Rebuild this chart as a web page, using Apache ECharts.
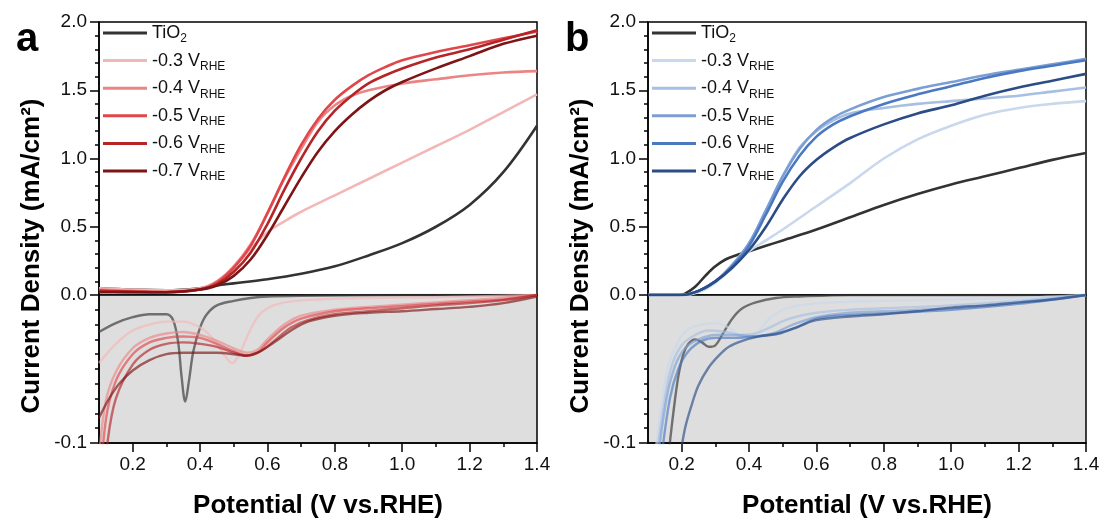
<!DOCTYPE html>
<html>
<head>
<meta charset="utf-8">
<script src="https://cdn.jsdelivr.net/npm/echarts@6/dist/echarts.min.js"></script>
<style>
html, body { margin: 0; padding: 0; background: #fff; }
#chart { width: 1104px; height: 522px; }
</style>
</head>
<body>
<div id="chart"></div>
<script>
// photocurrent curves, two panels with a broken y axis (0..2 above, 0..-0.1 below)
const FONT = '"Liberation Sans", Arial, sans-serif'

const seriesKeys = ['TiO2', '-0.3', '-0.4', '-0.5', '-0.6', '-0.7']
const redColors = ['#333333', '#f2b8b8', '#eb8585', '#e0474a', '#b52426', '#7d1416']
const blueColors = ['#333333', '#c9d8ec', '#a6bfe2', '#7c9fd3', '#4a79c2', '#2b4c85']
const xLabelValues = [0.2, 0.4, 0.6, 0.8, 1.0, 1.2, 1.4]
const xMinorValues = [0.3, 0.5, 0.7, 0.9, 1.1, 1.3]

// panel a, upper part
const aUpTiO2 = [[0.1,0.05],[0.2,0.04],[0.3,0.035],[0.4,0.05],[0.45,0.07],[0.5,0.085],[0.6,0.115],[0.7,0.155],[0.8,0.21],[0.9,0.29],[1.0,0.38],[1.1,0.5],[1.2,0.66],[1.3,0.9],[1.4,1.24]]
const aUp03 = [[0.1,0.05],[0.2,0.04],[0.3,0.035],[0.4,0.05],[0.45,0.1],[0.5,0.2],[0.55,0.34],[0.6,0.46],[0.65,0.54],[0.7,0.61],[0.8,0.73],[0.9,0.85],[1.0,0.97],[1.1,1.09],[1.2,1.21],[1.3,1.34],[1.4,1.47]]
const aUp04 = [[0.1,0.04],[0.2,0.03],[0.3,0.025],[0.4,0.045],[0.45,0.1],[0.5,0.21],[0.55,0.37],[0.6,0.6],[0.65,0.85],[0.7,1.07],[0.75,1.27],[0.8,1.39],[0.85,1.46],[0.9,1.5],[1.0,1.55],[1.1,1.58],[1.2,1.61],[1.3,1.63],[1.4,1.64]]
const aUp05 = [[0.1,0.03],[0.2,0.02],[0.3,0.02],[0.4,0.04],[0.45,0.09],[0.5,0.2],[0.55,0.36],[0.6,0.6],[0.65,0.86],[0.7,1.1],[0.75,1.29],[0.8,1.43],[0.85,1.53],[0.9,1.61],[0.95,1.67],[1.0,1.72],[1.1,1.78],[1.2,1.83],[1.3,1.88],[1.4,1.93]]
const aUp06 = [[0.1,0.03],[0.2,0.025],[0.3,0.02],[0.4,0.04],[0.45,0.08],[0.5,0.17],[0.55,0.31],[0.6,0.52],[0.65,0.77],[0.7,1.0],[0.75,1.2],[0.8,1.35],[0.85,1.46],[0.9,1.55],[0.95,1.61],[1.0,1.66],[1.1,1.74],[1.2,1.8],[1.3,1.87],[1.4,1.94]]
const aUp07 = [[0.1,0.02],[0.2,0.02],[0.3,0.02],[0.4,0.04],[0.45,0.07],[0.5,0.14],[0.55,0.26],[0.6,0.44],[0.65,0.65],[0.7,0.86],[0.75,1.05],[0.8,1.2],[0.85,1.32],[0.9,1.42],[0.95,1.5],[1.0,1.56],[1.1,1.66],[1.2,1.75],[1.3,1.84],[1.4,1.9]]

// panel a, lower part
const aLoTiO2 = [[0.1,-0.025],[0.15,-0.019],[0.2,-0.015],[0.25,-0.013],[0.3,-0.013],[0.32,-0.017],[0.335,-0.032],[0.345,-0.055],[0.356,-0.072],[0.367,-0.058],[0.38,-0.038],[0.4,-0.022],[0.42,-0.013],[0.45,-0.007],[0.5,-0.004],[0.55,-0.002],[0.6,-0.001],[0.7,-0.0005],[1.0,0],[1.4,0]]
const aLo03 = [[0.1,-0.046],[0.15,-0.033],[0.2,-0.024],[0.25,-0.02],[0.3,-0.018],[0.35,-0.018],[0.4,-0.022],[0.44,-0.03],[0.47,-0.04],[0.495,-0.046],[0.515,-0.041],[0.54,-0.028],[0.57,-0.015],[0.6,-0.009],[0.65,-0.005],[0.75,-0.003],[0.9,-0.002],[1.1,-0.0015],[1.4,0]]
const aLo04 = [[0.1,-0.11],[0.12,-0.072],[0.15,-0.052],[0.2,-0.036],[0.25,-0.029],[0.3,-0.026],[0.35,-0.025],[0.4,-0.027],[0.45,-0.031],[0.5,-0.036],[0.54,-0.039],[0.57,-0.037],[0.6,-0.03],[0.65,-0.02],[0.7,-0.014],[0.8,-0.01],[0.9,-0.008],[1.0,-0.0065],[1.1,-0.005],[1.2,-0.0035],[1.3,-0.002],[1.38,0]]
const aLo05 = [[0.1,-0.14],[0.12,-0.085],[0.15,-0.058],[0.2,-0.04],[0.25,-0.032],[0.3,-0.029],[0.35,-0.028],[0.4,-0.029],[0.45,-0.033],[0.5,-0.038],[0.54,-0.041],[0.57,-0.039],[0.6,-0.032],[0.65,-0.022],[0.7,-0.016],[0.8,-0.011],[0.9,-0.009],[1.0,-0.0075],[1.1,-0.006],[1.2,-0.0045],[1.3,-0.003],[1.4,0]]
const aLo06 = [[0.1,-0.16],[0.125,-0.1],[0.15,-0.07],[0.2,-0.047],[0.25,-0.037],[0.3,-0.033],[0.35,-0.032],[0.4,-0.033],[0.45,-0.035],[0.5,-0.039],[0.54,-0.041],[0.58,-0.038],[0.62,-0.031],[0.67,-0.022],[0.72,-0.017],[0.8,-0.013],[0.9,-0.011],[1.0,-0.009],[1.1,-0.007],[1.2,-0.0055],[1.3,-0.0035],[1.4,0]]
const aLo07 = [[0.1,-0.083],[0.13,-0.07],[0.16,-0.06],[0.2,-0.051],[0.25,-0.044],[0.3,-0.04],[0.35,-0.039],[0.4,-0.039],[0.45,-0.039],[0.5,-0.04],[0.53,-0.041],[0.57,-0.039],[0.62,-0.032],[0.67,-0.024],[0.72,-0.018],[0.8,-0.014],[0.9,-0.012],[1.0,-0.011],[1.1,-0.0095],[1.2,-0.008],[1.3,-0.0055],[1.4,-0.001]]

// panel b, upper part
const bUpTiO2 = [[0.1,0],[0.15,0],[0.19,0],[0.21,0.01],[0.24,0.06],[0.27,0.14],[0.3,0.21],[0.33,0.26],[0.36,0.29],[0.4,0.32],[0.45,0.36],[0.5,0.4],[0.6,0.48],[0.7,0.57],[0.8,0.66],[0.9,0.74],[1.0,0.81],[1.1,0.87],[1.2,0.93],[1.3,0.99],[1.4,1.04]]
const bUp03 = [[0.1,0],[0.2,0],[0.25,0.02],[0.3,0.09],[0.35,0.2],[0.4,0.32],[0.45,0.4],[0.5,0.48],[0.6,0.65],[0.7,0.82],[0.8,1.0],[0.9,1.14],[1.0,1.24],[1.1,1.32],[1.2,1.37],[1.3,1.4],[1.4,1.42]]
const bUp04 = [[0.1,0],[0.2,0],[0.25,0.03],[0.3,0.1],[0.35,0.22],[0.4,0.38],[0.45,0.62],[0.5,0.87],[0.55,1.08],[0.6,1.2],[0.65,1.28],[0.7,1.33],[0.8,1.37],[0.9,1.4],[1.0,1.42],[1.1,1.44],[1.2,1.46],[1.3,1.49],[1.4,1.52]]
const bUp05 = [[0.1,0],[0.2,0],[0.25,0.03],[0.3,0.1],[0.35,0.22],[0.4,0.38],[0.45,0.62],[0.5,0.87],[0.55,1.07],[0.6,1.21],[0.65,1.3],[0.7,1.36],[0.8,1.45],[0.9,1.51],[1.0,1.56],[1.1,1.61],[1.2,1.65],[1.3,1.69],[1.4,1.73]]
const bUp06 = [[0.1,0],[0.2,0],[0.25,0.03],[0.3,0.1],[0.35,0.21],[0.4,0.36],[0.45,0.59],[0.5,0.83],[0.55,1.02],[0.6,1.16],[0.65,1.25],[0.7,1.31],[0.8,1.4],[0.9,1.47],[1.0,1.53],[1.1,1.59],[1.2,1.64],[1.3,1.68],[1.4,1.72]]
const bUp07 = [[0.1,0],[0.2,0],[0.25,0.03],[0.3,0.1],[0.35,0.2],[0.4,0.33],[0.45,0.5],[0.5,0.7],[0.55,0.87],[0.6,0.99],[0.65,1.08],[0.7,1.15],[0.8,1.25],[0.9,1.33],[1.0,1.39],[1.1,1.46],[1.2,1.52],[1.3,1.57],[1.4,1.62]]

// panel b, lower part
const bLoTiO2 = [[0.16,-0.11],[0.175,-0.08],[0.19,-0.055],[0.205,-0.04],[0.22,-0.033],[0.24,-0.03],[0.26,-0.032],[0.28,-0.035],[0.3,-0.034],[0.32,-0.027],[0.35,-0.016],[0.38,-0.009],[0.42,-0.005],[0.48,-0.002],[0.55,-0.001],[0.7,0],[1.4,0]]
const bLo03 = [[0.12,-0.11],[0.14,-0.075],[0.16,-0.048],[0.19,-0.031],[0.22,-0.023],[0.26,-0.02],[0.3,-0.019],[0.34,-0.022],[0.37,-0.027],[0.4,-0.029],[0.43,-0.024],[0.46,-0.016],[0.5,-0.01],[0.55,-0.007],[0.65,-0.005],[0.8,-0.004],[1.0,-0.003],[1.2,-0.002],[1.4,0]]
const bLo04 = [[0.125,-0.11],[0.15,-0.07],[0.17,-0.048],[0.2,-0.034],[0.24,-0.027],[0.28,-0.024],[0.33,-0.025],[0.38,-0.027],[0.42,-0.026],[0.46,-0.022],[0.52,-0.016],[0.6,-0.012],[0.7,-0.01],[0.8,-0.009],[1.0,-0.007],[1.2,-0.004],[1.4,0]]
const bLo05 = [[0.13,-0.11],[0.155,-0.07],[0.18,-0.048],[0.21,-0.036],[0.25,-0.03],[0.3,-0.027],[0.36,-0.027],[0.42,-0.028],[0.47,-0.026],[0.53,-0.02],[0.6,-0.015],[0.7,-0.012],[0.8,-0.011],[1.0,-0.009],[1.2,-0.005],[1.4,0]]
const bLo06 = [[0.14,-0.11],[0.165,-0.07],[0.19,-0.05],[0.22,-0.038],[0.26,-0.031],[0.3,-0.029],[0.36,-0.029],[0.42,-0.028],[0.48,-0.026],[0.54,-0.022],[0.6,-0.016],[0.7,-0.0135],[0.8,-0.0125],[1.0,-0.01],[1.2,-0.006],[1.4,0]]
const bLo07 = [[0.195,-0.11],[0.21,-0.09],[0.23,-0.074],[0.25,-0.061],[0.28,-0.049],[0.31,-0.041],[0.34,-0.035],[0.38,-0.031],[0.43,-0.028],[0.49,-0.026],[0.55,-0.021],[0.6,-0.017],[0.7,-0.0145],[0.8,-0.013],[0.9,-0.011],[1.0,-0.0085],[1.1,-0.007],[1.2,-0.005],[1.3,-0.003],[1.4,0]]

const panels = [
  { key: 'a', left: 99, colors: redColors,
    upper: [aUpTiO2, aUp03, aUp04, aUp05, aUp06, aUp07],
    lower: [aLoTiO2, aLo03, aLo04, aLo05, aLo06, aLo07] },
  { key: 'b', left: 648, colors: blueColors,
    upper: [bUpTiO2, bUp03, bUp04, bUp05, bUp06, bUp07],
    lower: [bLoTiO2, bLo03, bLo04, bLo05, bLo06, bLo07] }
]

const W = 438, TOP = 22, UP_H = 273, LO_H = 148
const axisColor = { color: '#000', width: 1.5 }
const tickFont = { color: '#111', fontFamily: FONT, fontSize: 19, margin: 12 }

const grid = [], xAxis = [], yAxis = [], series = [], legend = [], graphic = []

panels.forEach((p, i) => {
  grid.push({ left: p.left, top: TOP, width: W, height: UP_H, show: true,
    borderColor: '#000', borderWidth: 1.5, backgroundColor: 'transparent' })
  grid.push({ left: p.left, top: TOP + UP_H, width: W, height: LO_H, show: true,
    borderColor: '#000', borderWidth: 1.5, backgroundColor: '#dedede' })

  // upper x axis: hidden, the grid border draws the 0 line
  xAxis.push({ type: 'value', gridIndex: i * 2, min: 0.1, max: 1.4, show: false })
  // lower x axis with labels and long ticks
  xAxis.push({
    type: 'value', gridIndex: i * 2 + 1, position: 'bottom', min: 0.1, max: 1.4,
    axisLine: { onZero: false, lineStyle: axisColor },
    axisTick: { show: true, length: 9, lineStyle: axisColor, customValues: xLabelValues },
    axisLabel: Object.assign({ customValues: xLabelValues, formatter: v => v.toFixed(1) }, tickFont),
    splitLine: { show: false }
  })
  // short ticks in between
  xAxis.push({
    type: 'value', gridIndex: i * 2 + 1, position: 'bottom', offset: 0, min: 0.1, max: 1.4,
    axisLine: { show: false, onZero: false },
    axisTick: { show: true, length: 4, lineStyle: axisColor, customValues: xMinorValues },
    axisLabel: { show: false },
    splitLine: { show: false }
  })

  yAxis.push({
    type: 'value', gridIndex: i * 2, position: 'left', min: 0, max: 2, interval: 0.5,
    axisLine: { show: true, onZero: false, lineStyle: axisColor },
    axisTick: { show: true, length: 9, lineStyle: axisColor },
    minorTick: { show: true, splitNumber: 5, length: 4, lineStyle: axisColor },
    axisLabel: Object.assign({ formatter: v => v.toFixed(1) }, tickFont),
    splitLine: { show: false }, minorSplitLine: { show: false }
  })
  yAxis.push({
    type: 'value', gridIndex: i * 2 + 1, position: 'left', min: -0.1, max: 0, interval: 0.1,
    axisLine: { show: true, onZero: false, lineStyle: axisColor },
    axisTick: { show: true, length: 9, lineStyle: axisColor },
    minorTick: { show: true, splitNumber: 10, length: 4, lineStyle: axisColor },
    axisLabel: Object.assign({ formatter: v => (v === 0 ? '' : v.toFixed(1)) }, tickFont),
    splitLine: { show: false }, minorSplitLine: { show: false }
  })

  const names = seriesKeys.map(k => p.key + '|' + k)
  p.upper.forEach((d, j) => {
    series.push({
      name: names[j], type: 'line', xAxisIndex: i * 3, yAxisIndex: i * 2,
      data: d, symbol: 'none', smooth: 0.35, z: 3,
      lineStyle: { color: p.colors[j], width: 2.6 }, itemStyle: { color: p.colors[j] }
    })
  })
  p.lower.forEach((d, j) => {
    series.push({
      name: names[j], type: 'line', xAxisIndex: i * 3 + 1, yAxisIndex: i * 2 + 1,
      data: d, symbol: 'none', smooth: 0.35, z: 3,
      lineStyle: { color: p.colors[j], width: 2.4, opacity: 0.65 }, itemStyle: { color: p.colors[j] }
    })
  })

  legend.push({
    data: names.map((n, j) => ({ name: n, itemStyle: { color: p.colors[j] } })),
    orient: 'vertical', left: p.left + 4, top: 21, padding: 0,
    icon: 'rect', itemWidth: 44, itemHeight: 3, itemGap: 3.6, selectedMode: false,
    formatter: name => {
      const k = name.split('|')[1]
      return k === 'TiO2' ? 'TiO{sub|2}' : k + ' V{sub|RHE}'
    },
    textStyle: {
      fontFamily: FONT, fontSize: 18, color: '#111', lineHeight: 24,
      rich: { sub: { fontFamily: FONT, fontSize: 12, color: '#111', verticalAlign: 'bottom', lineHeight: 24 } }
    }
  })

  const midX = p.left + W / 2
  graphic.push({ type: 'text', left: p.left - 83, top: 20,
    style: { text: p.key, font: 'bold 40px ' + FONT, fill: '#000' } })
  graphic.push({ type: 'text', x: midX, y: 506,
    style: { text: 'Potential (V vs.RHE)', font: 'bold 26px ' + FONT, fill: '#000',
      textAlign: 'center', textVerticalAlign: 'middle' } })
  graphic.push({ type: 'text', x: p.left - 67, y: 256, rotation: Math.PI / 2,
    style: { text: 'Current Density (mA/cm²)', font: 'bold 26px ' + FONT, fill: '#000',
      textAlign: 'center', textVerticalAlign: 'middle' } })
})

const chart = echarts.init(document.getElementById('chart'), null, { renderer: 'canvas' })
chart.setOption({
  animation: false,
  backgroundColor: '#fff',
  grid, xAxis, yAxis, series, legend, graphic
})
</script>
</body>
</html>
